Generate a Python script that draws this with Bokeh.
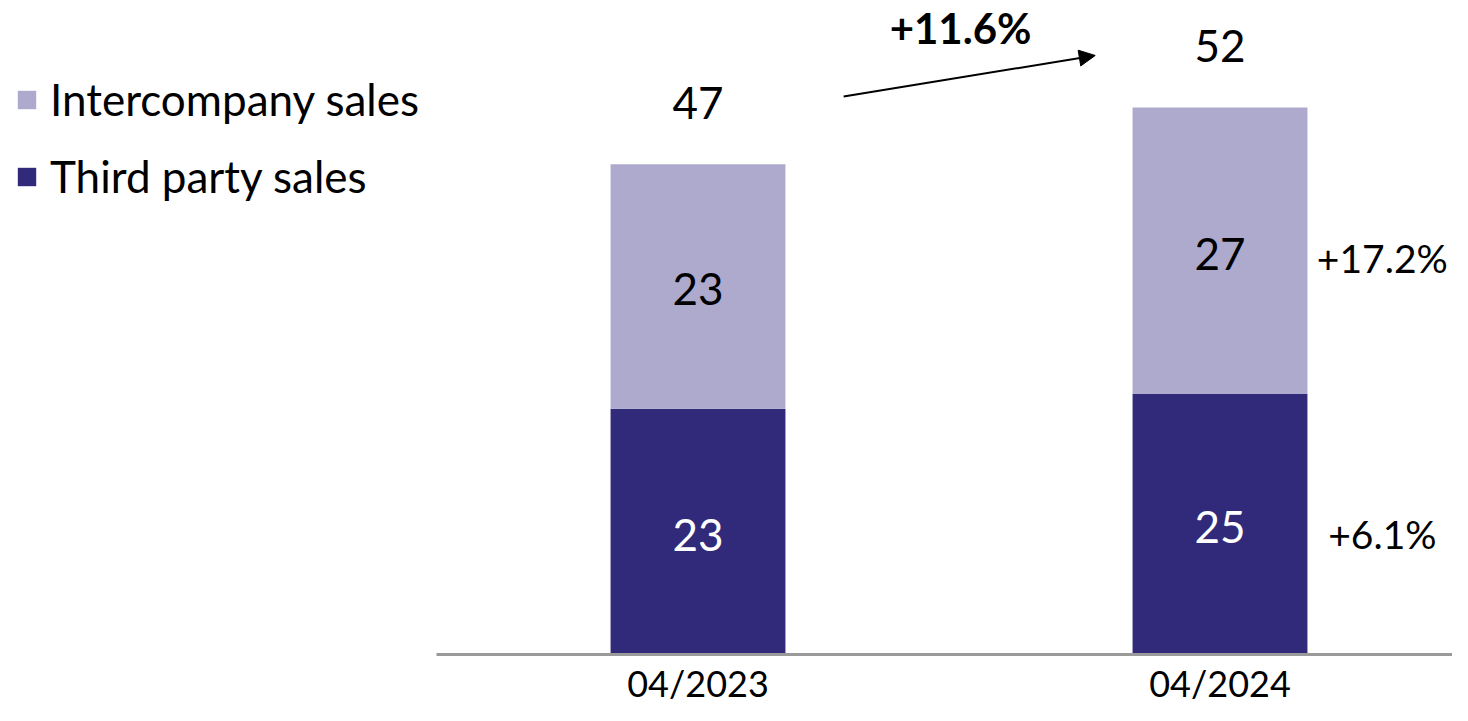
from bokeh.plotting import figure
from bokeh.models import ColumnDataSource, Range1d, Legend, LegendItem, Arrow, NormalHead, FixedTicker
from bokeh.core.properties import value
from bokeh.embed import file_html
from bokeh.resources import INLINE

# ---------------- data ----------------
periods = ["04/2023", "04/2024"]
third_party = [23.4, 24.8]
intercompany = [23.3, 27.3]
growth_third_pct = 6.1
growth_inter_pct = 17.2
growth_total_pct = 11.6

C_INTER = "#ADAACD"
C_THIRD = "#312A7B"
FONT = "Lato"

idx = list(range(len(periods)))
totals = [a + b for a, b in zip(third_party, intercompany)]
src = ColumnDataSource(dict(
    x=idx, third=third_party, inter=intercompany, total=totals,
    mid_third=[t / 2 for t in third_party],
    mid_inter=[t + i / 2 for t, i in zip(third_party, intercompany)],
    lab_third=[f"{round(v)}" for v in third_party],
    lab_inter=[f"{round(v)}" for v in intercompany],
    lab_total=[f"{round(v)}" for v in totals],
))

W, H = 1452, 705
p = figure(width=W, height=H, output_backend="svg", toolbar_location=None,
           x_range=Range1d(-1.3362, 1.4454), y_range=Range1d(-4.857, 62.286),
           min_border=0, outline_line_color=None)
p.grid.visible = False
p.yaxis.visible = False

bar_w = 0.335
rs = p.vbar_stack(["third", "inter"], x="x", width=bar_w, color=[C_THIRD, C_INTER],
                  line_color=None, source=src)

# axis at baseline
ax = p.xaxis[0]
ax.fixed_location = 0
ax.bounds = (-0.5, 1.5)
ax.ticker = FixedTicker(ticks=idx)
ax.major_label_overrides = {i: s for i, s in zip(idx, periods)}
ax.axis_line_color = "#9a9a9a"
ax.axis_line_width = 3
ax.major_tick_line_color = None
ax.minor_tick_line_color = None
ax.major_label_text_font = FONT
ax.major_label_text_font_size = "36px"
ax.major_label_text_color = "#000000"
ax.major_label_standoff = 0

# value labels
p.text(x="x", y="mid_third", text="lab_third", source=src, text_color="white",
       text_font=value(FONT), text_font_size="44px", text_align="center",
       text_baseline="middle", y_offset=3)
p.text(x="x", y="mid_inter", text="lab_inter", source=src, text_color="black",
       text_font=value(FONT), text_font_size="44px", text_align="center",
       text_baseline="middle", y_offset=3)
p.text(x="x", y="total", text="lab_total", source=src, text_color="black",
       text_font=value(FONT), text_font_size="44px", text_align="center",
       text_baseline="alphabetic", y_offset=-61)

# growth labels right of second bar
last = idx[-1]
p.text(x=[last + 0.311], y=[third_party[-1] / 2], text=[f"+{growth_third_pct:.1f}%"],
       text_font=value(FONT), text_font_size="39px", text_align="center",
       text_baseline="middle", y_offset=10)
p.text(x=[last + 0.311], y=[third_party[-1] + intercompany[-1] / 2], text=[f"+{growth_inter_pct:.1f}%"],
       text_font=value(FONT), text_font_size="39px", text_align="center",
       text_baseline="middle", y_offset=7)

# total growth arrow + label
p.add_layout(Arrow(end=NormalHead(size=16, fill_color="black", line_color="black"),
                   x_start=0.279, y_start=totals[0] + 6.44, x_end=0.761, y_end=totals[-1] + 4.95,
                   line_color="black", line_width=2))
p.text(x=[0.503], y=[58.48], text=[f"+{growth_total_pct:.1f}%"], text_font=value(FONT),
       text_font_size="42px", text_font_style="bold", text_align="center",
       text_baseline="alphabetic", y_offset=-12)

legend = Legend(items=[LegendItem(label="Intercompany sales", renderers=[rs[1]]),
                       LegendItem(label="Third party sales", renderers=[rs[0]])],
                location=(15, 503), padding=0, margin=0, spacing=25,
                glyph_width=23, glyph_height=23, label_height=23,
                label_text_font=FONT, label_text_font_size="44px", label_text_color="black",
                label_standoff=12, border_line_color=None, background_fill_alpha=0)
p.add_layout(legend)

open("out.html", "w").write(file_html(p, INLINE))
